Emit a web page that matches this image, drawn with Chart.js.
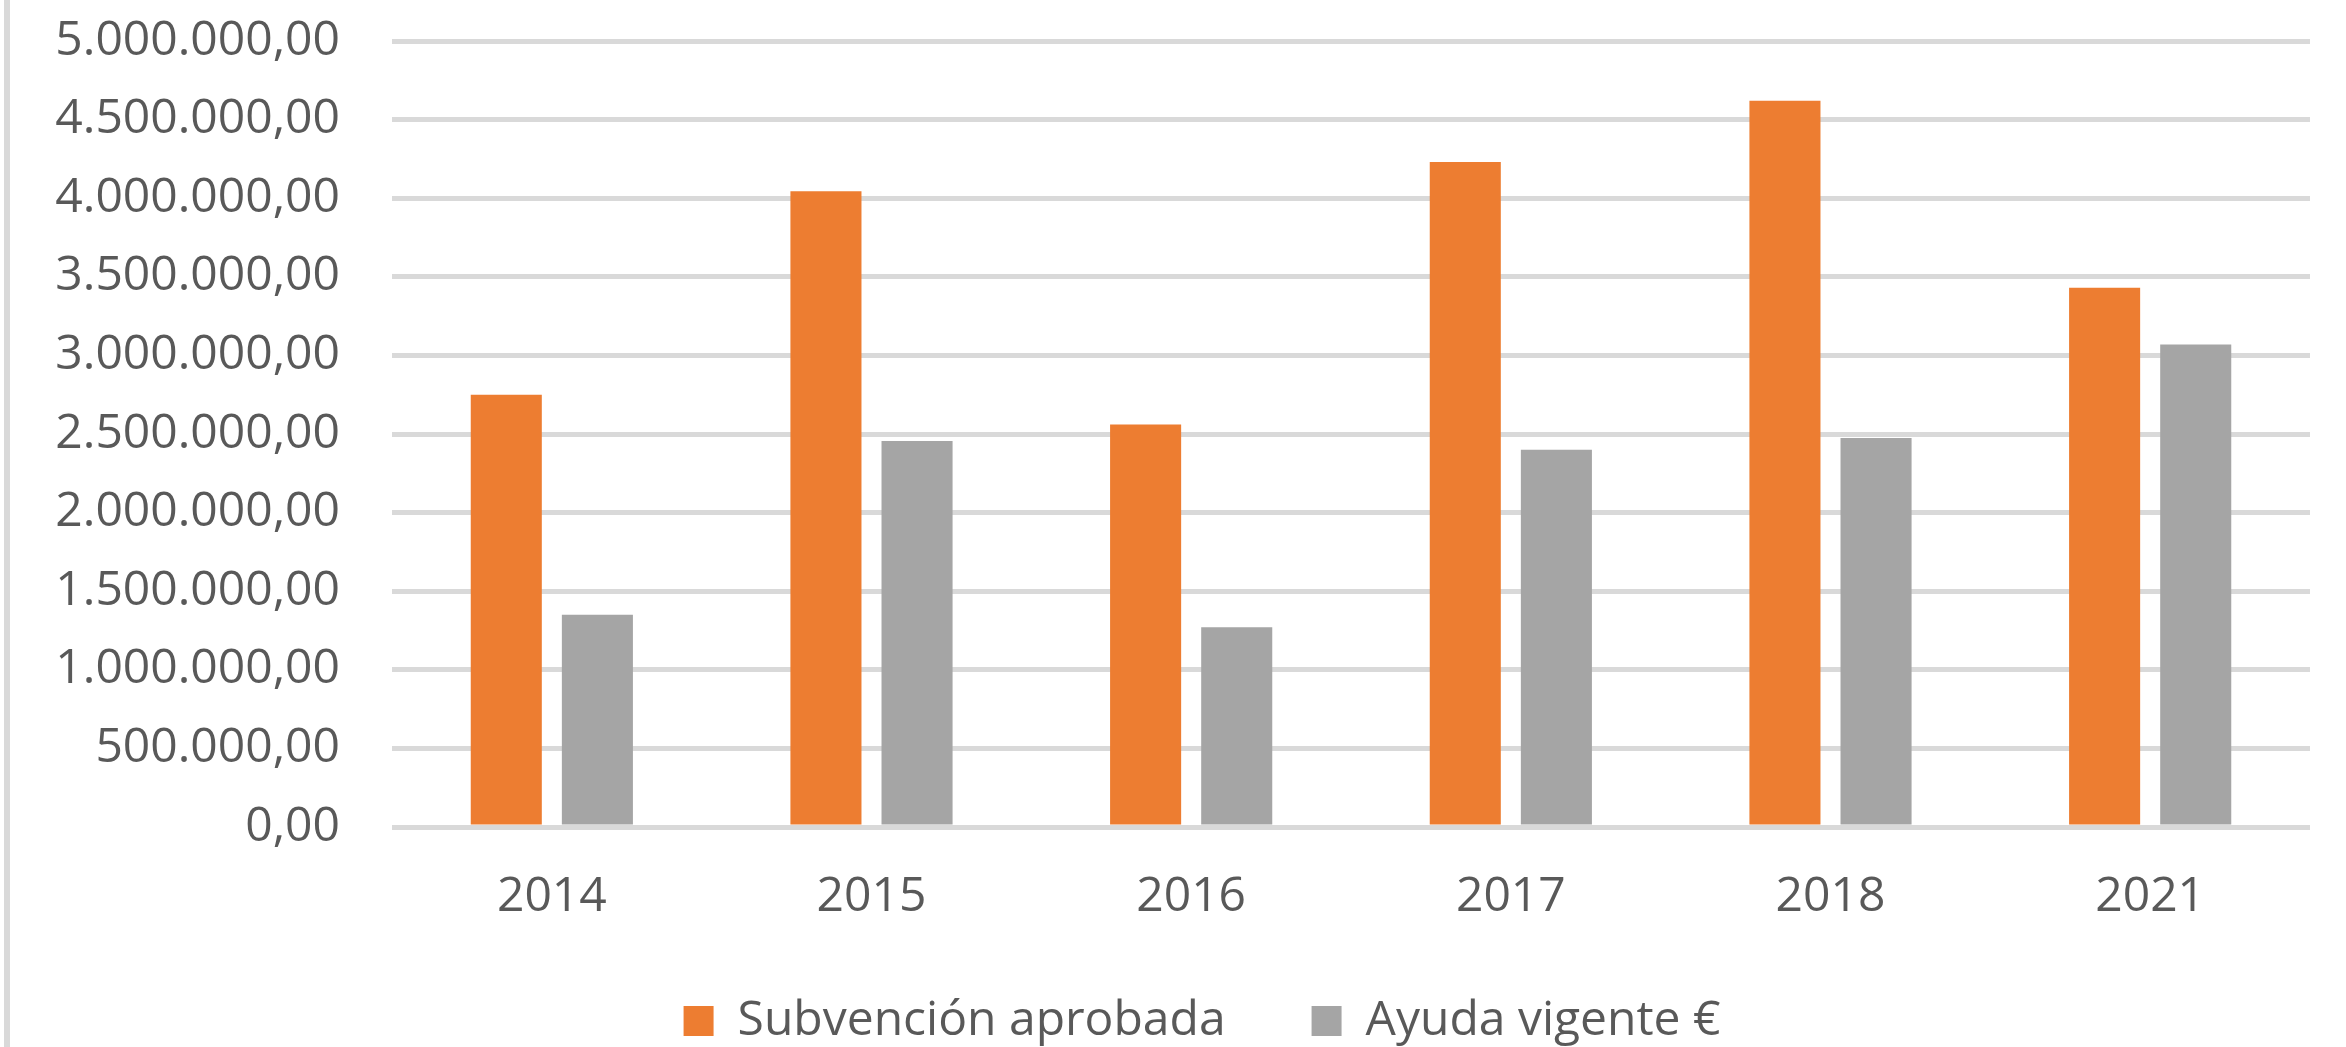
<!DOCTYPE html>
<html>
<head>
<meta charset="utf-8">
<script src="https://cdn.jsdelivr.net/npm/chart.js@4/dist/chart.umd.min.js"></script>
<style>
  body { margin: 0; background: #fff; }
  #wrap { position: relative; width: 2346px; height: 1047px; }
  #edge { position: absolute; left: 4px; top: 0; width: 6px; height: 1047px; background: #d9d9d9; }
  #chart { position: absolute; left: 0; top: 0; }
</style>
</head>
<body>
<div id="wrap">
  <div id="edge"></div>
  <canvas id="chart" width="2346" height="1047"></canvas>
</div>
<script>
const years = ['2014', '2015', '2016', '2017', '2018', '2021'];
const subvencionAprobada = [2750000, 4045000, 2560000, 4230000, 4620000, 3430000];
const ayudaVigente = [1350000, 2455000, 1270000, 2400000, 2475000, 3070000];
const yMax = 5000000;
const yStep = 500000;

const textColor = '#595959';
const fontFamily = '"Open Sans", "Noto Sans", sans-serif';

// 5000000 -> "5.000.000,00"
const fmt = (v) => {
    const parts = Number(v).toFixed(2).split('.');
    const int = parts[0].replace(/\B(?=(\d{3})+(?!\d))/g, '.');
    return int + ',' + parts[1];
};

// the legend in the original sits a bit right of the canvas centre
const legendShift = {
    id: 'legendShift',
    afterLayout(chart) {
        chart.legend.left += 37;
        chart.legend.right += 37;
    }
};

const ctx = document.getElementById('chart').getContext('2d');
new Chart(ctx, {
    type: 'bar',
    data: {
        labels: years,
        datasets: [
            {
                label: 'Subvención aprobada',
                data: subvencionAprobada,
                backgroundColor: '#ed7d31',
                borderWidth: 0,
                categoryPercentage: 0.57,
                barPercentage: 0.78
            },
            {
                label: 'Ayuda vigente €',
                data: ayudaVigente,
                backgroundColor: '#a5a5a5',
                borderWidth: 0,
                categoryPercentage: 0.57,
                barPercentage: 0.78
            }
        ]
    },
    plugins: [legendShift],
    options: {
        responsive: false,
        animation: false,
        devicePixelRatio: 1,
        layout: {
            padding: { left: 20, right: 36, top: 0, bottom: -8 }
        },
        plugins: {
            tooltip: { enabled: false },
            legend: {
                position: 'bottom',
                labels: {
                    boxWidth: 30,
                    boxHeight: 30,
                    padding: 86,
                    color: textColor,
                    font: { family: fontFamily, size: 48 }
                }
            }
        },
        scales: {
            x: {
                grid: { display: false, drawTicks: false },
                border: { display: false },
                ticks: {
                    color: textColor,
                    padding: 42,
                    font: { family: fontFamily, size: 48 }
                },
                afterFit: (scale) => { scale.height = 84; }
            },
            y: {
                min: 0,
                max: yMax,
                grid: { color: '#d9d9d9', lineWidth: 5, drawTicks: false },
                border: { display: false },
                ticks: {
                    stepSize: yStep,
                    color: textColor,
                    padding: 52,
                    font: { family: fontFamily, size: 48 },
                    callback: (v) => fmt(v)
                },
                afterFit: (scale) => {
                    scale.width = 372;
                    scale.paddingTop = 41;
                    scale.paddingBottom = 0;
                }
            }
        }
    }
});
</script>
</body>
</html>
